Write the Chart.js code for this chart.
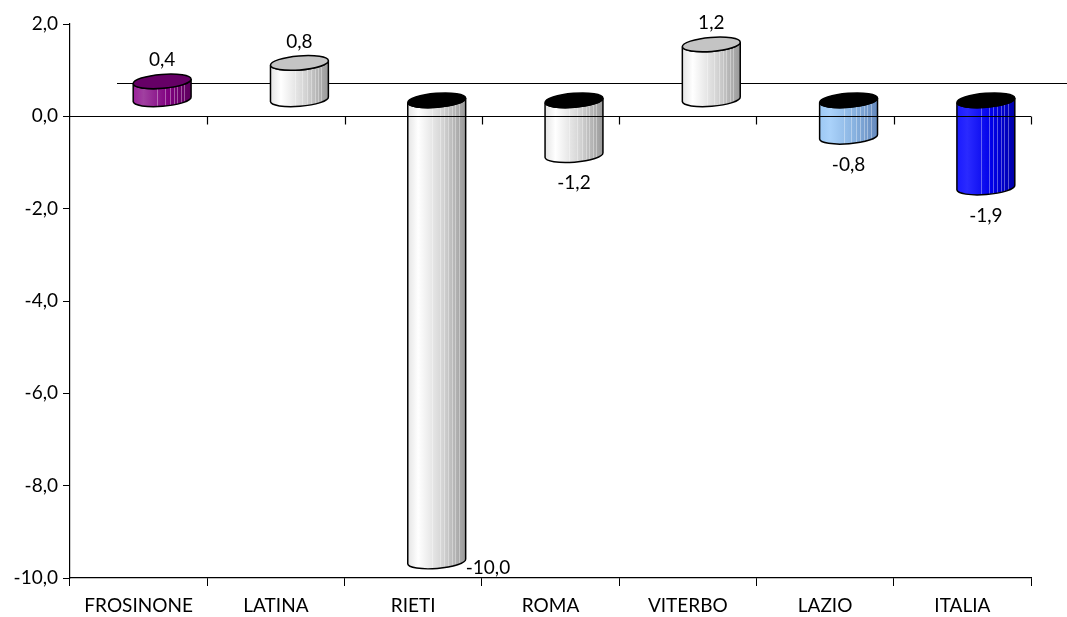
<!DOCTYPE html>
<html>
<head>
<meta charset="utf-8">
<script src="https://cdn.jsdelivr.net/npm/chart.js@4.4.1/dist/chart.umd.min.js"></script>
<style>
  html, body { margin: 0; padding: 0; background: #fff; }
  #wrap { width: 1067px; height: 617px; }
</style>
</head>
<body>
<div id="wrap"><canvas id="chart" width="1067" height="617"></canvas></div>
<script>
const categories = ['FROSINONE', 'LATINA', 'RIETI', 'ROMA', 'VITERBO', 'LAZIO', 'ITALIA'];
const values = [0.4, 0.8, -10.0, -1.2, 1.2, -0.8, -1.9];
const yTicks = [-10, -8, -6, -4, -2, 0, 2];

// body gradient stops (light, lightest, mid, dark) and top face colour per bar
const palette = [
    { body: ['#9a209a', '#a040a0', '#800080', '#5c005c'], top: '#660066' },
    { body: ['#e4e4e4', '#ffffff', '#d4d4d4', '#999999'], top: '#c4c4c4' },
    { body: ['#e4e4e4', '#ffffff', '#d4d4d4', '#999999'], top: '#c4c4c4' },
    { body: ['#e4e4e4', '#ffffff', '#d4d4d4', '#999999'], top: '#c4c4c4' },
    { body: ['#e4e4e4', '#ffffff', '#d4d4d4', '#999999'], top: '#c4c4c4' },
    { body: ['#9cc8f4', '#aad2fa', '#88b2e0', '#6488bc'], top: '#7aa4d8' },
    { body: ['#1a1aff', '#2a2aff', '#0000e8', '#0000a8'], top: '#0000c0' }
];

const FONT = '"Lato", "DejaVu Sans", sans-serif';
const FONT_SIZE = 19;
const fmt = v => v.toFixed(1).replace('.', ',');

// half of the 3D depth: bars sit in the middle of the depth
const DX = 23.5, DY = -16.5;
const RY = 7, ROT = -0.08;

function sidePath(ctx, cx, rx, yHigh, yLow) {
    const ox = rx * Math.cos(ROT), oy = rx * Math.sin(ROT);
    ctx.beginPath();
    ctx.moveTo(cx - ox, yHigh - oy);
    ctx.lineTo(cx - ox, yLow - oy);
    ctx.ellipse(cx, yLow, rx, RY, ROT, Math.PI, 0, true);
    ctx.lineTo(cx + ox, yHigh + oy);
    ctx.ellipse(cx, yHigh, rx, RY, ROT, 0, Math.PI, false);
    ctx.closePath();
}

const cylinders = {
    id: 'cylinders',
    beforeDatasetsDraw(chart) {
        const ctx = chart.ctx;
        const zero = chart.scales.y.getPixelForValue(0);
        ctx.save();
        ctx.strokeStyle = '#000';
        ctx.lineWidth = 1;
        ctx.beginPath();
        ctx.moveTo(chart.chartArea.left + 2 * DX, Math.round(zero + 2 * DY) + 0.5);
        ctx.lineTo(chart.width, Math.round(zero + 2 * DY) + 0.5);
        ctx.stroke();
        ctx.restore();
    },
    afterDatasetsDraw(chart) {
        const ctx = chart.ctx;
        const meta = chart.getDatasetMeta(0);
        meta.data.forEach((bar, i) => {
            const cx = bar.x + DX;
            const rx = bar.width / 2;
            const yHigh = Math.min(bar.y, bar.base) + DY;
            const yLow = Math.max(bar.y, bar.base) + DY;
            const pal = palette[i];

            ctx.save();
            // side
            sidePath(ctx, cx, rx, yHigh, yLow);
            const g = ctx.createLinearGradient(cx - rx, 0, cx + rx, 0);
            g.addColorStop(0, pal.body[0]);
            g.addColorStop(0.18, pal.body[1]);
            g.addColorStop(0.6, pal.body[2]);
            g.addColorStop(1, pal.body[3]);
            ctx.fillStyle = g;
            ctx.fill();
            // thin vertical stripes
            ctx.save();
            ctx.clip();
            ctx.strokeStyle = 'rgba(255,255,255,0.35)';
            ctx.lineWidth = 1;
            [0.42, 0.55, 0.63, 0.7, 0.76, 0.82, 0.88].forEach(f => {
                const sx = Math.round(cx - rx + f * 2 * rx) + 0.5;
                ctx.beginPath();
                ctx.moveTo(sx, yHigh - RY - 4);
                ctx.lineTo(sx, yLow + RY + 4);
                ctx.stroke();
            });
            ctx.restore();
            sidePath(ctx, cx, rx, yHigh, yLow);
            ctx.strokeStyle = '#000';
            ctx.lineWidth = 1.5;
            ctx.stroke();

            // top face
            ctx.beginPath();
            ctx.ellipse(cx, yHigh, rx, RY, ROT, 0, Math.PI * 2);
            ctx.fillStyle = values[i] >= 0 ? pal.top : '#000';
            ctx.fill();
            ctx.stroke();

            // value label
            ctx.fillStyle = '#000';
            ctx.font = FONT_SIZE + 'px ' + FONT;
            ctx.textBaseline = 'alphabetic';
            if (values[i] >= 0) {
                ctx.textAlign = 'center';
                ctx.fillText(fmt(values[i]), cx, yHigh - RY - 8);
            } else if (yLow + RY + 26 > chart.chartArea.bottom) {
                ctx.textAlign = 'left';
                ctx.fillText(fmt(values[i]), cx + rx, yLow + 12);
            } else {
                ctx.textAlign = 'center';
                ctx.fillText(fmt(values[i]), cx, yLow + RY + 27);
            }
            ctx.restore();
        });
    },
    afterDraw(chart) {
        // front zero line with category ticks
        const ctx = chart.ctx;
        const area = chart.chartArea;
        const zero = Math.round(chart.scales.y.getPixelForValue(0)) + 0.5;
        const step = (area.right - area.left) / categories.length;
        ctx.save();
        ctx.strokeStyle = '#000';
        ctx.lineWidth = 1.2;
        ctx.beginPath();
        ctx.moveTo(area.left, zero);
        ctx.lineTo(area.right, zero);
        for (let i = 1; i <= categories.length; i++) {
            const tx = Math.round(area.left + i * step) + 0.5;
            ctx.moveTo(tx, zero);
            ctx.lineTo(tx, zero + 8);
        }
        ctx.stroke();
        ctx.restore();
    }
};

new Chart(document.getElementById('chart'), {
    type: 'bar',
    data: {
        labels: categories,
        datasets: [{
            data: values,
            backgroundColor: 'rgba(0,0,0,0)',
            borderWidth: 0,
            barPercentage: 0.423,
            categoryPercentage: 1
        }]
    },
    options: {
        responsive: false,
        animation: false,
        layout: { padding: { top: 24, right: 36, left: 0, bottom: 0 } },
        plugins: {
            legend: { display: false },
            tooltip: { enabled: false }
        },
        scales: {
            x: {
                afterFit: s => { s.height = 39; },
                grid: { offset: true, drawOnChartArea: false, tickLength: 8, color: '#000' },
                border: { color: '#000', width: 1.2 },
                ticks: { color: '#000', font: { family: FONT, size: FONT_SIZE }, padding: 8, maxRotation: 0 }
            },
            y: {
                min: Math.min(...yTicks),
                max: Math.max(...yTicks),
                afterBuildTicks: s => { s.ticks = yTicks.map(v => ({ value: v })); },
                afterFit: s => { s.width = 70; },
                grid: { drawOnChartArea: false, tickLength: 7, color: '#000' },
                border: { color: '#000', width: 1.2 },
                ticks: { color: '#000', font: { family: FONT, size: FONT_SIZE }, padding: 5, callback: v => fmt(v) }
            }
        }
    },
    plugins: [cylinders]
});
</script>
</body>
</html>
